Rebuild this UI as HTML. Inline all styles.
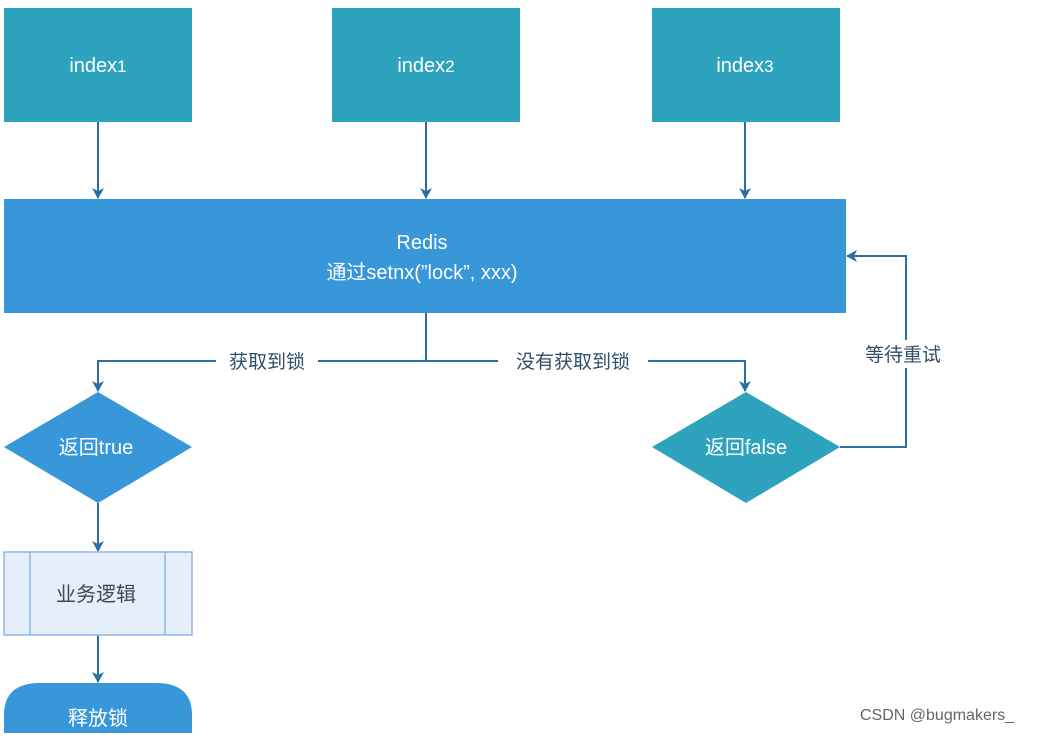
<!DOCTYPE html>
<html><head><meta charset="utf-8"><style>
body{margin:0;background:#fff;width:1054px;height:733px;overflow:hidden}
text{font-family:"Liberation Sans","Noto Sans CJK SC",sans-serif}
</style></head><body>
<svg width="1054" height="733" xmlns="http://www.w3.org/2000/svg">
<defs><marker id="a" markerWidth="12" markerHeight="12" refX="10" refY="6" orient="auto" markerUnits="userSpaceOnUse"><path d="M0,0 L11,6 L0,12 L3,6 z" fill="#2a6fa0"/></marker></defs>
<g fill="#2ea3bd">
<rect x="4" y="8" width="188" height="114"/>
<rect x="332" y="8" width="188" height="114"/>
<rect x="652" y="8" width="188" height="114"/>
</g>
<rect x="4" y="199" width="842" height="114" fill="#3797d9"/>
<g stroke="#2a6fa0" stroke-width="2" fill="none">
<line x1="98" y1="122" x2="98" y2="198" marker-end="url(#a)"/>
<line x1="426" y1="122" x2="426" y2="198" marker-end="url(#a)"/>
<line x1="745" y1="122" x2="745" y2="198" marker-end="url(#a)"/>
<line x1="426" y1="313" x2="426" y2="361"/>
<polyline points="426,361 98,361 98,391" marker-end="url(#a)"/>
<polyline points="426,361 745,361 745,391" marker-end="url(#a)"/>
<polyline points="840,447 906,447 906,256 847,256" marker-end="url(#a)"/>
<line x1="98" y1="503" x2="98" y2="551" marker-end="url(#a)"/>
<line x1="98" y1="635" x2="98" y2="682" marker-end="url(#a)"/>
</g>
<polygon points="98,392 192,447 98,503 4,447" fill="#3797d9"/>
<polygon points="746,392 840,447 746,503 652,447" fill="#2ea3bd"/>
<rect x="4" y="552" width="188" height="83" fill="#e6eef9" stroke="#8fb7e6" stroke-width="1.5"/>
<line x1="30" y1="552" x2="30" y2="635" stroke="#8fb7e6" stroke-width="1.5"/>
<line x1="165" y1="552" x2="165" y2="635" stroke="#8fb7e6" stroke-width="1.5"/>
<path d="M4,733 L4,715 Q4,683 40,683 L156,683 Q192,683 192,715 L192,733 Z" fill="#3797d9"/>
<rect x="216" y="348" width="102" height="26" fill="#fff"/>
<rect x="498" y="348" width="150" height="26" fill="#fff"/>
<rect x="852" y="340" width="102" height="28" fill="#fff"/>
<g fill="#fff" font-size="20" text-anchor="middle">
<text x="98" y="72">index<tspan font-size="17">1</tspan></text>
<text x="426" y="72">index<tspan font-size="17">2</tspan></text>
<text x="745" y="72">index<tspan font-size="17">3</tspan></text>
<text x="422" y="249">Redis</text>
<text x="422" y="279">通过setnx(”lock”, xxx)</text>
<text x="96" y="454">返回true</text>
<text x="746" y="454">返回false</text>
<text x="98" y="725">释放锁</text>
</g>
<text x="96" y="601" font-size="20" text-anchor="middle" fill="#3a4a5a">业务逻辑</text>
<g fill="#2f4f6a" font-size="19" text-anchor="middle">
<text x="267" y="368">获取到锁</text>
<text x="573" y="368">没有获取到锁</text>
<text x="903" y="361">等待重试</text>
</g>
<text x="860" y="720" font-size="16" fill="#666">CSDN @bugmakers_</text>
</svg>
</body></html>
